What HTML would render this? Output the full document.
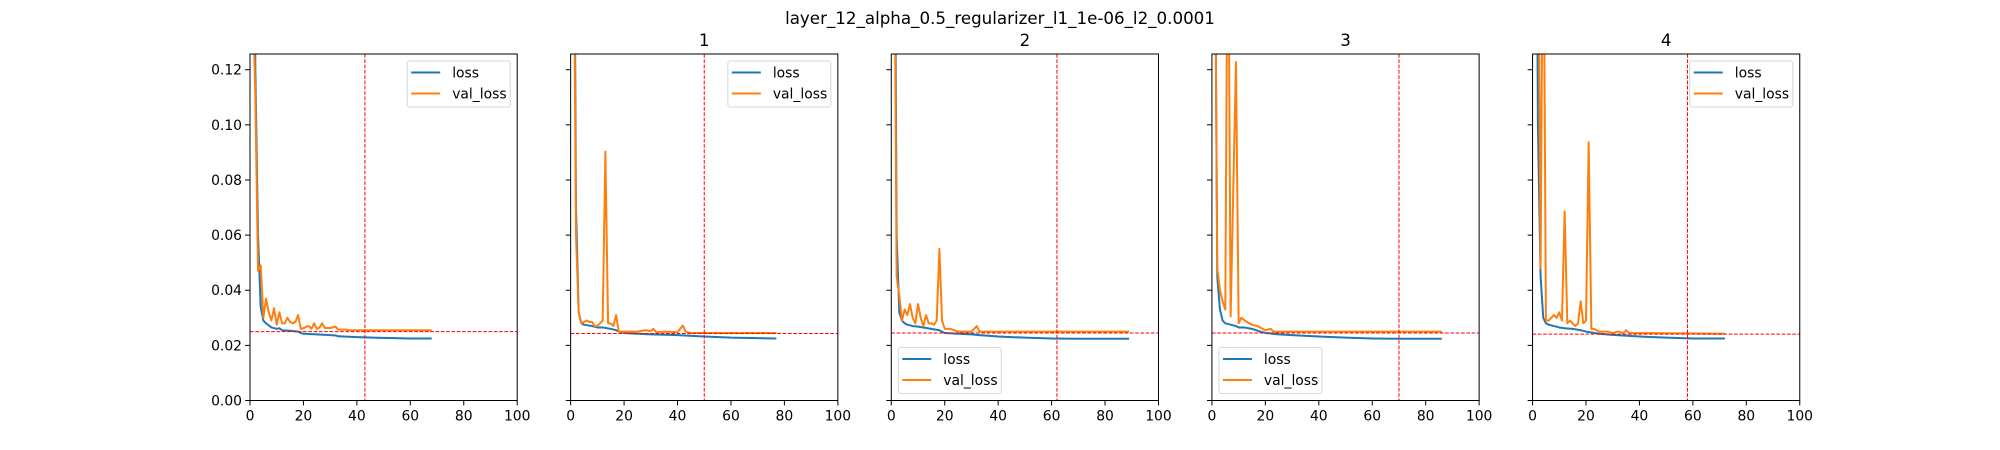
<!DOCTYPE html>
<html><head><meta charset="utf-8"><style>
html,body{margin:0;padding:0;background:#fff;}
svg{display:block;font-family:"DejaVu Sans","Liberation Sans",sans-serif;}
</style></head>
<body>
<svg id="fig" width="2000" height="450" viewBox="0 0 2000 450" xmlns="http://www.w3.org/2000/svg">
<rect width="2000" height="450" fill="#fff"/>
<text x="1000" y="24" font-size="16.7" text-anchor="middle">layer_12_alpha_0.5_regularizer_l1_1e-06_l2_0.0001</text>
</svg>
<script>
const xTicks = [0, 20, 40, 60, 80, 100];
const yTicks = [0.00, 0.02, 0.04, 0.06, 0.08, 0.10, 0.12];
const yTickLabels = ["0.00","0.02","0.04","0.06","0.08","0.10","0.12"];
const panelTitles = ["", "1", "2", "3", "4"];
const legendPos = ["ur", "ur", "ll", "ll", "ur"];
const vLines = [43, 50, 62, 70, 58];
const hLines = [0.025, 0.0243, 0.0245, 0.0245, 0.0241];

const lossX0 = [0,1,2,3,4,5,6,8,10,11,12,15,18,19,20,25,30,32,33,40,50,60,68];
const lossY0 = [0.5,0.25,0.12,0.06,0.034,0.029,0.028,0.0265,0.026,0.0262,0.0255,0.0253,0.025,0.0245,0.0242,0.024,0.0237,0.0236,0.0233,0.023,0.0227,0.0225,0.0225];
const valX0 = [0,1,2,3,4,5,6,7,8,9,10,11,12,13,14,15,16,17,18,19,20,21,22,23,24,25,26,27,28,30,32,33,36,37,68];
const valY0 = [0.3,0.15,0.11,0.047,0.049,0.03,0.037,0.032,0.029,0.0335,0.0275,0.032,0.028,0.028,0.03,0.0285,0.028,0.0285,0.031,0.026,0.0262,0.0268,0.027,0.026,0.028,0.026,0.0265,0.028,0.0263,0.0263,0.0268,0.0257,0.0257,0.0255,0.0255];

const lossX1 = [0,1,2,3,4,5,8,10,12,15,17,18,20,25,30,40,50,60,77];
const lossY1 = [0.5,0.25,0.07,0.032,0.028,0.0275,0.027,0.0265,0.0265,0.026,0.0255,0.025,0.0245,0.0242,0.024,0.0237,0.0232,0.0228,0.0225];
const valX1 = [0,1,2,3,4,5,6,7,8,9,10,11,12,13,14,15,16,17,18,20,25,28,30,31,32,35,40,42,43,45,77];
const valY1 = [0.4,0.2,0.06,0.032,0.028,0.0285,0.029,0.0285,0.0285,0.027,0.027,0.028,0.029,0.0903,0.028,0.028,0.027,0.031,0.025,0.025,0.025,0.0255,0.0252,0.026,0.0248,0.025,0.0248,0.0272,0.025,0.0245,0.0245];

const lossX2 = [0,1,2,3,4,5,6,8,10,12,15,18,19,20,25,30,33,40,50,60,70,89];
const lossY2 = [0.5,0.25,0.06,0.032,0.029,0.028,0.0275,0.027,0.0268,0.0265,0.026,0.0255,0.025,0.0245,0.0242,0.024,0.0237,0.0232,0.0228,0.0225,0.0224,0.0224];
const valX2 = [0,1,2,3,4,5,6,7,8,9,10,11,12,13,14,15,16,17,18,19,20,22,25,30,32,33,89];
const valY2 = [0.4,0.2,0.045,0.038,0.029,0.033,0.031,0.035,0.03,0.028,0.035,0.03,0.027,0.031,0.028,0.028,0.0275,0.029,0.055,0.029,0.026,0.026,0.025,0.025,0.027,0.025,0.025];

const lossX3 = [0,1,2,3,4,5,7,9,10,12,15,18,20,25,30,40,50,60,70,86];
const lossY3 = [0.5,0.2,0.045,0.033,0.029,0.028,0.0275,0.027,0.0265,0.0265,0.026,0.025,0.0245,0.024,0.0237,0.0232,0.0228,0.0225,0.0224,0.0224];
const valX3 = [0,1,2,3,4,5,6,7,9,10,11,13,15,17,20,22,23,86];
const valY3 = [0.5,0.2,0.048,0.04,0.036,0.033,0.2,0.0305,0.1228,0.028,0.03,0.0285,0.0275,0.027,0.0255,0.026,0.025,0.025];

const lossX4 = [0,1,2,3,4,5,6,8,10,12,15,18,20,25,30,40,50,60,72];
const lossY4 = [0.5,0.3,0.1,0.045,0.03,0.028,0.0275,0.027,0.0265,0.0262,0.026,0.0255,0.025,0.0242,0.0238,0.0232,0.0228,0.0225,0.0225];
const valX4 = [0,1,2,3,4,5,6,7,8,9,10,11,12,13,14,15,16,17,18,19,20,21,22,23,24,25,28,30,32,34,35,36,72];
const valY4 = [0.5,0.3,0.2,0.048,0.2,0.029,0.029,0.03,0.031,0.03,0.032,0.029,0.0686,0.028,0.029,0.028,0.027,0.028,0.036,0.028,0.029,0.0937,0.026,0.026,0.0255,0.025,0.025,0.0245,0.025,0.0245,0.0255,0.0245,0.0242];

const lossXs = [lossX0, lossX1, lossX2, lossX3, lossX4];
const lossYs = [lossY0, lossY1, lossY2, lossY3, lossY4];
const valXs = [valX0, valX1, valX2, valX3, valX4];
const valYs = [valY0, valY1, valY2, valY3, valY4];

const NS = "http://www.w3.org/2000/svg";
const svg = document.getElementById("fig");
const AX_TOP = 54, AX_BOT = 400.5, AX_W = 267.2, GAP = 53.44, LEFT0 = 250;
const YMAX = 0.1257, XMAX = 100;
function mk(tag, attrs, parent) {
  const e = document.createElementNS(NS, tag);
  for (const k in attrs) e.setAttribute(k, attrs[k]);
  (parent || svg).appendChild(e);
  return e;
}

for (let p = 0; p < 5; p++) {
  const x0 = LEFT0 + p * (AX_W + GAP);
  const sx = v => x0 + v / XMAX * AX_W;
  const sy = v => AX_BOT - v / YMAX * (AX_BOT - AX_TOP);
  const g = mk("g", {});
  
  
  const cp = mk("clipPath", {id: "clip" + p}, g);
  mk("rect", {x: x0, y: AX_TOP, width: AX_W, height: AX_BOT - AX_TOP}, cp);

  const plot = mk("g", {"clip-path": "url(#clip" + p + ")"}, g);
  const mkLine = (xs, ys, color, name) => {
    const pts = xs.map((x, i) => sx(x).toFixed(2) + "," + sy(ys[i]).toFixed(2)).join(" ");
    const l = mk("polyline", {points: pts, fill: "none", stroke: color, "stroke-width": 2, "stroke-linejoin": "round"}, plot);
    
    
  };
  mkLine(lossXs[p], lossYs[p], "#1f77b4", "loss-line");
  mkLine(valXs[p], valYs[p], "#ff7f0e", "val-loss-line");
  const vl = mk("line", {x1: sx(vLines[p]), x2: sx(vLines[p]), y1: AX_TOP, y2: AX_BOT, stroke: "#ff0000", "stroke-width": 1, "stroke-dasharray": "3.7,1.6"}, plot);
  
  
  const hl = mk("line", {x1: x0, x2: x0 + AX_W, y1: sy(hLines[p]), y2: sy(hLines[p]), stroke: "#ff0000", "stroke-width": 1, "stroke-dasharray": "3.7,1.6"}, plot);
  
  

  const frame = mk("rect", {x: x0, y: AX_TOP, width: AX_W, height: AX_BOT - AX_TOP, fill: "none", stroke: "#000", "stroke-width": 1}, g);
  
  

  xTicks.forEach(t => {
    mk("line", {x1: sx(t), x2: sx(t), y1: AX_BOT, y2: AX_BOT + 4.9, stroke: "#000", "stroke-width": 1}, g);
    const tx = mk("text", {x: sx(t), y: AX_BOT + 20, "font-size": 13.9, "text-anchor": "middle"}, g);
    tx.textContent = t;
    
    
  });
  yTicks.forEach((t, i) => {
    mk("line", {x1: x0 - 4.9, x2: x0, y1: sy(t), y2: sy(t), stroke: "#000", "stroke-width": 1}, g);
    if (p === 0) {
      const ty = mk("text", {x: x0 - 8, y: sy(t) + 5, "font-size": 13.9, "text-anchor": "end"}, g);
      ty.textContent = yTickLabels[i];
      
      
    }
  });
  if (panelTitles[p]) {
    const tt = mk("text", {x: x0 + AX_W / 2, y: 46, "font-size": 16.7, "text-anchor": "middle"}, g);
    tt.textContent = panelTitles[p];
    
    
  }

  const lw = 103, lh = 46;
  const lx = legendPos[p] === "ur" ? x0 + AX_W - 7 - lw : x0 + 7;
  const ly = legendPos[p] === "ur" ? AX_TOP + 7 : AX_BOT - 7 - lh;
  const lg = mk("g", {}, g);
  
  
  mk("rect", {x: lx, y: ly, width: lw, height: lh, rx: 2.5, fill: "#fff", "fill-opacity": 0.8, stroke: "#d6d6d6", "stroke-width": 1}, lg);
  [["loss", "#1f77b4"], ["val_loss", "#ff7f0e"]].forEach((e, i) => {
    const yy = ly + 11.5 + i * 21;
    const ent = mk("g", {}, lg);
    
    
    mk("line", {x1: lx + 4, x2: lx + 33, y1: yy, y2: yy, stroke: e[1], "stroke-width": 2}, ent);
    const lt = mk("text", {x: lx + 45, y: yy + 5, "font-size": 13.9}, ent);
    lt.textContent = e[0];
  });
}
</script>
</body></html>
